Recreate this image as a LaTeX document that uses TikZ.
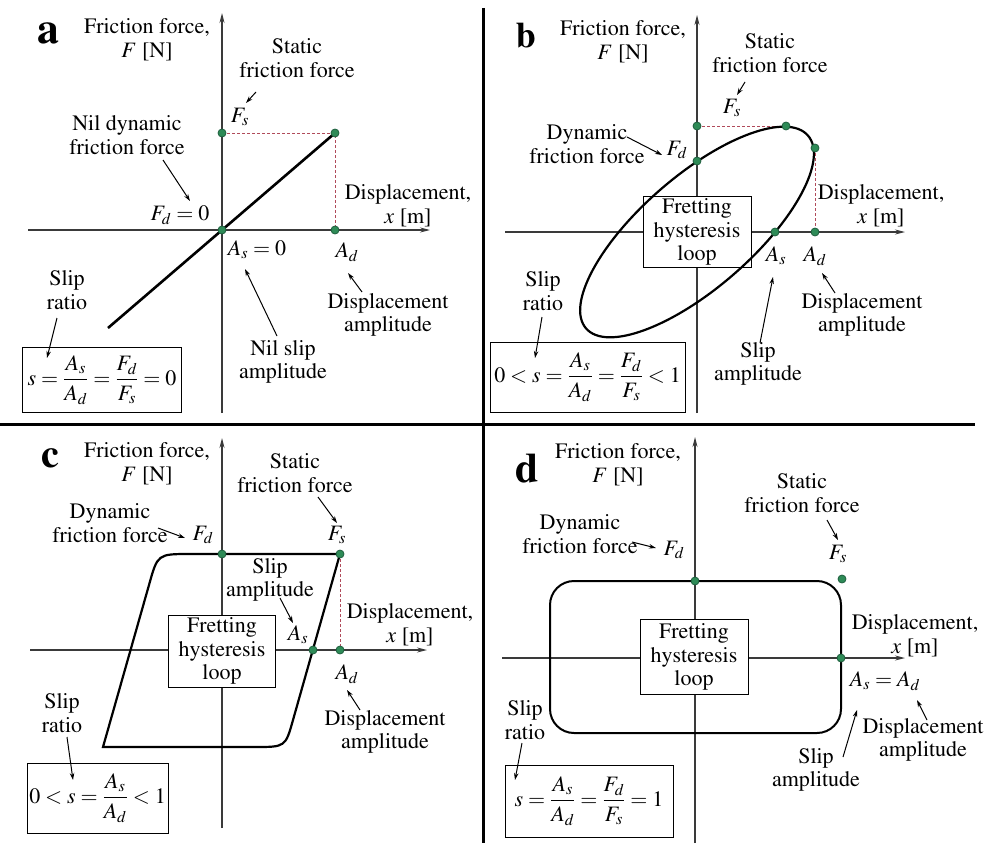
\documentclass[tikz,border=0pt]{standalone}
\usepackage[T1]{fontenc}
\usepackage{amsmath}
\usepackage{mathptmx}
\usetikzlibrary{arrows.meta}
\definecolor{dotgreen}{HTML}{2E8B57}
\definecolor{dotedge}{HTML}{1F5F3F}
\definecolor{dashred}{HTML}{B04A5A}
\definecolor{axisgray}{HTML}{3A3A3A}
\begin{document}
\begin{tikzpicture}[x=1pt,y=-1pt,
  lbl/.style={align=center, inner sep=0pt, font=\fontsize{22}{23.5}\selectfont},
  axisln/.style={draw=axisgray, line width=1.3pt, -{Stealth[length=10pt,width=5pt]}},
  curve/.style={line width=2.2pt},
  gdot/.style={circle, fill=dotgreen, draw=dotedge, line width=0.8pt, inner sep=0pt, minimum size=8pt},
  dsh/.style={draw=dashred, line width=0.9pt, dash pattern=on 3pt off 2pt},
  ptr/.style={line width=1pt, -{Stealth[length=7pt,width=4.5pt]}},
  hbox/.style={draw, fill=white, line width=1pt, align=center, inner sep=0pt, font=\fontsize{22}{23.5}\selectfont},
  panel/.style={inner sep=0pt, font=\bfseries}
]
\useasboundingbox (0,0) rectangle (990,843);
% dividers
\coordinate (dvT) at (483,8); \coordinate (dvB) at (483,843);
\coordinate (dhL) at (0,424); \coordinate (dhR) at (975,424);
\draw[line width=3pt] (dvT) -- (dvB);
\draw[line width=3pt] (dhL) -- (dhR);

%================ panel a
\coordinate (aYb) at (222,413); \coordinate (aYt) at (222,13);
\coordinate (aXl) at (28,230); \coordinate (aXr) at (430,230);
\draw[axisln] (aYb) -- (aYt);
\draw[axisln] (aXl) -- (aXr);
\coordinate (aO) at (222,230); \coordinate (aFsP) at (222,133);
\coordinate (aC) at (335,133); \coordinate (aAdP) at (335,230);
\coordinate (aL) at (108,328);
\draw[dsh] (aFsP) -- (aC) -- (aAdP);
\draw[curve, line width=2.6pt] (aL) -- (aC);
\node[gdot] (aD1) at (aO) {};
\node[gdot] (aD2) at (aFsP) {};
\node[gdot] (aD3) at (aC) {};
\node[gdot] (aD4) at (aAdP) {};
\node[panel, font=\fontsize{44}{44}\selectfont\bfseries] (aLet) at (48,33) {a};
\node[lbl] (aFF) at (147,40) {Friction force,\\ $F$ [N]};
\node[lbl] (aSF) at (297,58) {Static\\ friction force};
\node[lbl] (aFs) at (240,117) {$F_s$};
\node[lbl] (aND) at (127,135) {Nil dynamic\\ friction force};
\node[lbl] (aFd) at (180,215) {$F_d=0$};
\node[lbl] (aDX) at (408,206) {Displacement,\\ $x$ [m]};
\node[lbl] (aAs) at (257,250) {$A_s=0$};
\node[lbl] (aAd) at (347,252) {$A_d$};
\node[lbl] (aDA) at (388,315) {Displacement\\ amplitude};
\node[lbl] (aNS) at (283,362) {Nil slip\\ amplitude};
\node[lbl] (aSR) at (67,290) {Slip\\ ratio};
\node[hbox, minimum width=159pt, minimum height=65pt] (aBox) at (102,380)
  {$s=\dfrac{A_s}{A_d}=\dfrac{F_d}{F_s}=0$};
\coordinate (aA1s) at (256,92); \coordinate (aA1e) at (246,103);
\coordinate (aA2s) at (163,160); \coordinate (aA2e) at (190,201);
\coordinate (aA3s) at (362,292); \coordinate (aA3e) at (348,273);
\coordinate (aA4s) at (277,336); \coordinate (aA4e) at (245,269);
\coordinate (aA5s) at (57,318); \coordinate (aA5e) at (47,358);
\draw[ptr] (aA1s) -- (aA1e);
\draw[ptr] (aA2s) -- (aA2e);
\draw[ptr] (aA3s) -- (aA3e);
\draw[ptr] (aA4s) -- (aA4e);
\draw[ptr] (aA5s) -- (aA5e);

%================ panel b
\coordinate (bYb) at (697,413); \coordinate (bYt) at (697,15);
\coordinate (bXl) at (505,232); \coordinate (bXr) at (905,232);
\draw[axisln] (bYb) -- (bYt);
\draw[axisln] (bXl) -- (bXr);
\coordinate (bO) at (697,232);
\coordinate (bTop) at (786,126); \coordinate (bR) at (815,148);
\coordinate (bFdP) at (697,161); \coordinate (bAsP) at (775,232);
\coordinate (bFsP) at (697,126); \coordinate (bAdP) at (815,232);
\node[hbox, minimum width=108pt, minimum height=71pt] (bBox) at (bO) {Fretting\\ hysteresis\\ loop};
\draw[dsh] (bFsP) -- (bTop);
\draw[dsh] (bR) -- (bAdP);
\draw[curve, rotate around={41:(bO)}] (bO) ellipse [x radius=147, y radius=56];
\node[gdot] (bD1) at (bTop) {};
\node[gdot] (bD2) at (bR) {};
\node[gdot] (bD3) at (bFdP) {};
\node[gdot] (bD4) at (bAsP) {};
\node[gdot] (bD5) at (bFsP) {};
\node[gdot] (bD6) at (bAdP) {};
\node[panel, font=\fontsize{36}{36}\selectfont\bfseries] (bLet) at (526,35) {b};
\node[lbl] (bFF) at (623,42) {Friction force,\\ $F$ [N]};
\node[lbl] (bSF) at (770,53) {Static\\ friction force};
\node[lbl] (bFs) at (732,108) {$F_s$};
\node[lbl] (bDF) at (587,144) {Dynamic\\ friction force};
\node[lbl] (bFd) at (677,150) {$F_d$};
\node[lbl] (bDX) at (881,206) {Displacement,\\ $x$ [m]};
\node[lbl] (bAs) at (776,256) {$A_s$};
\node[lbl] (bAd) at (815,256) {$A_d$};
\node[lbl] (bDA) at (862,315) {Displacement\\ amplitude};
\node[lbl] (bSA) at (758,364) {Slip\\ amplitude};
\node[lbl] (bSR) at (543,291) {Slip\\ ratio};
\node[hbox, minimum width=195pt, minimum height=70pt] (bFBox) at (587.5,377)
  {$0<s=\dfrac{A_s}{A_d}=\dfrac{F_d}{F_s}<1$};
\coordinate (bA1s) at (745,82); \coordinate (bA1e) at (737,95);
\coordinate (bA2s) at (627,137); \coordinate (bA2e) at (662,155);
\coordinate (bA3s) at (835,293); \coordinate (bA3e) at (822,273);
\coordinate (bA4s) at (760,343); \coordinate (bA4e) at (773,277);
\coordinate (bA5s) at (542,317); \coordinate (bA5e) at (535,358);
\draw[ptr] (bA1s) -- (bA1e);
\draw[ptr] (bA2s) -- (bA2e);
\draw[ptr] (bA3s) -- (bA3e);
\draw[ptr] (bA4s) -- (bA4e);
\draw[ptr] (bA5s) -- (bA5e);

%================ panel c
\coordinate (cYb) at (222,828); \coordinate (cYt) at (222,438);
\coordinate (cXl) at (30,650); \coordinate (cXr) at (427,650);
\draw[axisln] (cYb) -- (cYt);
\draw[axisln] (cXl) -- (cXr);
\coordinate (cO) at (222,651);
\coordinate (cFdP) at (222,554); \coordinate (cFsP) at (340,554);
\coordinate (cAsP) at (313,650); \coordinate (cAdP) at (340,650);
\coordinate (cP1) at (190,554); \coordinate (cK1) at (157.6,554); \coordinate (cP2) at (149,585);
\coordinate (cP3) at (103,747); \coordinate (cP4) at (255,747); \coordinate (cK2) at (285.4,747);
\coordinate (cP5) at (293,720);
\node[hbox, minimum width=107pt, minimum height=72pt] (cBox) at (cO) {Fretting\\ hysteresis\\ loop};
\draw[dsh] (cFsP) -- (cAdP);
\draw[curve, line join=miter] (cFsP) -- (cP1) .. controls (cK1) .. (cP2) -- (cP3) -- (cP4) .. controls (cK2) .. (cP5) -- cycle;
\node[gdot] (cD1) at (cFdP) {};
\node[gdot] (cD2) at (cFsP) {};
\node[gdot] (cD3) at (cAsP) {};
\node[gdot] (cD4) at (cAdP) {};
\node[panel, font=\fontsize{40}{40}\selectfont\bfseries] (cLet) at (50,458) {c};
\node[lbl] (cFF) at (147,464) {Friction force,\\ $F$ [N]};
\node[lbl] (cSF) at (295,473) {Static\\ friction force};
\node[lbl] (cFs) at (337,535) {$F_s$};
\node[lbl] (cDF) at (110,523) {Dynamic\\ friction force};
\node[lbl] (cFd) at (203,535) {$F_d$};
\node[lbl] (cSA) at (270,580) {Slip\\ amplitude};
\node[lbl] (cAs) at (298,635) {$A_s$};
\node[lbl] (cDX) at (410,625) {Displacement,\\ $x$ [m]};
\node[lbl] (cAd) at (347,674) {$A_d$};
\node[lbl] (cDA) at (385,732) {Displacement\\ amplitude};
\node[lbl] (cSR) at (62,713) {Slip\\ ratio};
\node[hbox, minimum width=141pt, minimum height=70pt] (cFBox) at (97.5,798)
  {$0<s=\dfrac{A_s}{A_d}<1$};
\coordinate (cA1s) at (318,497); \coordinate (cA1e) at (337,523);
\coordinate (cA2s) at (158,528); \coordinate (cA2e) at (185,538);
\coordinate (cA3s) at (280,598); \coordinate (cA3e) at (293,623);
\coordinate (cA4s) at (360,710); \coordinate (cA4e) at (347,690);
\coordinate (cA5s) at (67,737); \coordinate (cA5e) at (73,780);
\draw[ptr] (cA1s) -- (cA1e);
\draw[ptr] (cA2s) -- (cA2e);
\draw[ptr] (cA3s) -- (cA3e);
\draw[ptr] (cA4s) -- (cA4e);
\draw[ptr] (cA5s) -- (cA5e);

%================ panel d
\coordinate (dYb) at (695,843); \coordinate (dYt) at (695,437);
\coordinate (dXl) at (502,658); \coordinate (dXr) at (905,658);
\draw[axisln] (dYb) -- (dYt);
\draw[axisln] (dXl) -- (dXr);
\coordinate (dO) at (694,657);
\coordinate (dFdP) at (695,581); \coordinate (dFsP) at (842,579);
\coordinate (dAP) at (841,658);
\coordinate (dR1) at (550,581); \coordinate (dR2) at (841,733);
\node[hbox, minimum width=108pt, minimum height=75pt] (dBox) at (dO) {Fretting\\ hysteresis\\ loop};
\draw[line width=2pt, rounded corners=24pt] (dR1) rectangle (dR2);
\node[gdot] (dD1) at (dFdP) {};
\node[gdot] (dD2) at (dFsP) {};
\node[gdot] (dD3) at (dAP) {};
\node[panel, font=\fontsize{42}{42}\selectfont\bfseries] (dLet) at (527,468) {d};
\node[lbl] (dFF) at (618,465) {Friction force,\\ $F$ [N]};
\node[lbl] (dSF) at (802,493) {Static\\ friction force};
\node[lbl] (dFs) at (838,554) {$F_s$};
\node[lbl] (dDF) at (580,534) {Dynamic\\ friction force};
\node[lbl] (dFd) at (674,550) {$F_d$};
\node[lbl] (dDX) at (915,636) {Displacement,\\ $x$ [m]};
\node[lbl] (dAsAd) at (885,681) {$A_s=A_d$};
\node[lbl] (dDA) at (923,740) {Displacement\\ amplitude};
\node[lbl] (dSA) at (816,770) {Slip\\ amplitude};
\node[lbl] (dSR) at (525,720) {Slip\\ ratio};
\node[hbox, minimum width=168pt, minimum height=72pt] (dFBox) at (589,801)
  {$s=\dfrac{A_s}{A_d}=\dfrac{F_d}{F_s}=1$};
\coordinate (dA1s) at (827,520); \coordinate (dA1e) at (838,540);
\coordinate (dA2s) at (632,542); \coordinate (dA2e) at (656,548);
\coordinate (dA3s) at (843,757); \coordinate (dA3e) at (857,710);
\coordinate (dA4s) at (927,720); \coordinate (dA4e) at (917,700);
\coordinate (dA5s) at (522,743); \coordinate (dA5e) at (515,780);
\draw[ptr] (dA1s) -- (dA1e);
\draw[ptr] (dA2s) -- (dA2e);
\draw[ptr] (dA3s) -- (dA3e);
\draw[ptr] (dA4s) -- (dA4e);
\draw[ptr] (dA5s) -- (dA5e);
\end{tikzpicture}
\end{document}
